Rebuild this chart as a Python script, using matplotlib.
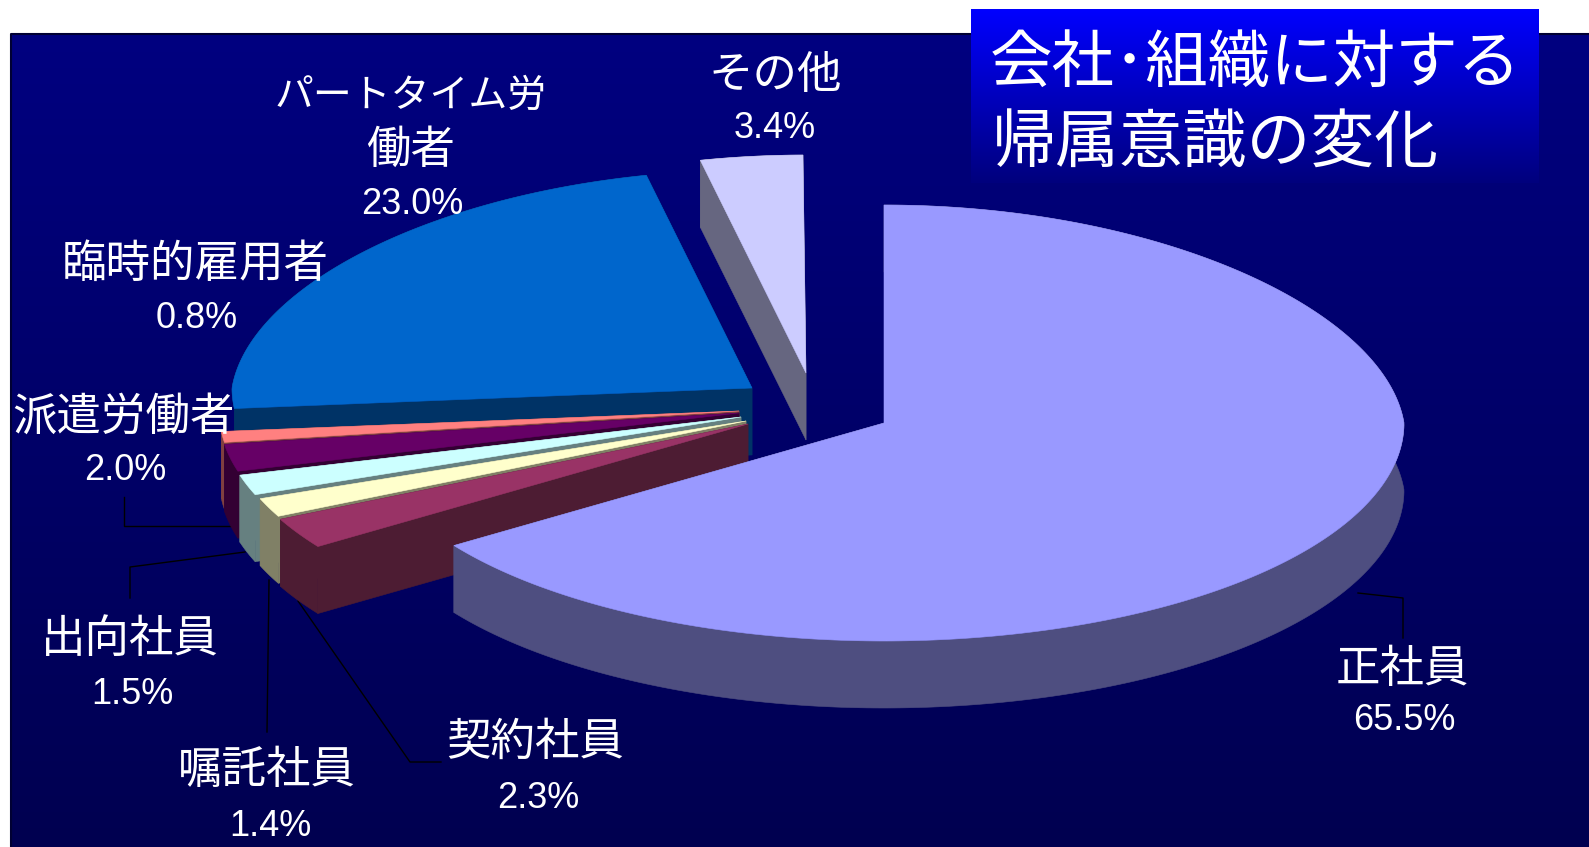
# coding=utf-8
import numpy as np
import matplotlib
matplotlib.use("Agg")
import matplotlib.pyplot as plt
from matplotlib.patches import Polygon

plt.rcParams['font.family'] = ['Liberation Sans', 'Noto Sans CJK JP', 'DejaVu Sans']

# 雇用形態ごとの割合 (%)  12時の位置から時計回り
labels = ["正社員", "契約社員", "嘱託社員", "出向社員", "派遣労働者",
          "臨時的雇用者", "パートタイム労\n働者", "その他"]
shares = [65.5, 2.3, 1.4, 1.5, 2.0, 0.8, 23.0, 3.4]
top_colors = ["#9999FF", "#993366", "#FFFFCC", "#CCFFFF", "#660066",
              "#FF8080", "#0066CC", "#CCCCFF"]
wall_colors = ["#4E4E80", "#4D1C33", "#808066", "#668080", "#330033",
               "#804040", "#003366", "#666680"]
title_lines = ["会社･組織に対する", "帰属意識の変化"]

W, H = 1589, 847

# 扇形ごとの切り出し後の中心
apex_x = [884, 748, 746, 741, 739, 739, 752, 806]
apex_y = [423, 424, 421, 417, 413, 411, 388, 373]
RX, RY, DEPTH = 520, 218, 67

# ラベル位置 (名前の中心, 値の中心)
name_pos = [(1402, 670), (535, 743), (267, 771), (130, 640), (124, 418),
            (195, 265), (411, 97), (775, 76)]
value_pos = [(1404, 720), (538, 798), (270, 826), (132, 694), (125, 471),
             (197, 318), (412, 204), (775, 129)]
LINE_STEP = 54

# 引き出し線
leaders = [
    [(1358, 593), (1403, 598), (1403, 638)],
    [(298, 601), (410, 762), (441, 762)],
    [(269, 580), (267, 732)],
    [(245, 552), (130, 567), (130, 598)],
    [(232, 526), (124, 526), (124, 497)],
]


def ring_points(cx, cy, theta):
    # 奥側ほど少し幅が狭くなる楕円
    shrink = 1 - 0.07 * np.clip(np.sin(theta), 0, None)
    return np.column_stack([cx + RX * shrink * np.cos(theta), cy - RY * np.sin(theta)])


def draw_slice(ax, cx, cy, start, end, top, wall, z):
    theta = np.linspace(start, end, max(int(abs(end - start) * 80), 4))
    arc = ring_points(cx, cy, theta)
    apex = np.array([[cx, cy]])
    down = np.array([0, DEPTH])

    for seg in (np.vstack([apex, arc[:1]]), np.vstack([apex, arc[-1:]]), arc):
        wall_poly = np.vstack([seg, (seg + down)[::-1]])
        ax.add_patch(Polygon(wall_poly, closed=True, fc=wall, ec=wall, lw=0.4, zorder=z))
    ax.add_patch(Polygon(np.vstack([apex, arc]), closed=True, fc=top, ec=top, lw=0.4, zorder=z + 0.5))


fig = plt.figure(figsize=(W / 100, H / 100), dpi=100, facecolor="white")
ax = fig.add_axes([0, 0, 1, 1])
ax.axis("off")

# 背景のグラデーション
bg = np.linspace(0, 1, 256).reshape(-1, 1)
bg_rgb = np.zeros((256, 1, 3))
bg_rgb[:, :, 2] = (128 - 48 * bg) / 255
ax.imshow(bg_rgb, extent=(11, W, H, 33), aspect="auto", zorder=0)
ax.plot([11, 11, W], [H, 34, 34], color="#000033", lw=1.5, zorder=0.5)

# タイトルの箱
box_rgb = np.zeros((256, 1, 3))
box_rgb[:, :, 2] = (255 - 130 * bg) / 255
ax.imshow(box_rgb, extent=(971, 1539, 183, 9), aspect="auto", zorder=1)

# 扇形の角度
edges = np.cumsum([0] + shares) / 100 * 2 * np.pi
starts = np.pi / 2 - edges[:-1]
ends = np.pi / 2 - edges[1:]

# 奥から手前の順に描く
order = [7, 6, 5, 4, 3, 2, 1, 0]
for z, i in enumerate(order):
    draw_slice(ax, apex_x[i], apex_y[i], starts[i], ends[i],
               top_colors[i], wall_colors[i], 3 + z)

for pts in leaders:
    xs, ys = zip(*pts)
    ax.plot(xs, ys, color="black", lw=1, zorder=2)

for i, name in enumerate(labels):
    for k, line in enumerate(name.split("\n")):
        # 長い行はカナが多いので少し小さく
        size = 28 if len(line) > 6 else 32
        ax.text(name_pos[i][0], name_pos[i][1] + k * LINE_STEP, line, color="white",
                fontsize=size, ha="center", va="center", zorder=20)
    ax.text(value_pos[i][0], value_pos[i][1], "%.1f%%" % shares[i], color="white",
            fontsize=26, ha="center", va="center", zorder=20)

ax.text(990, 65, title_lines[0], color="white", fontsize=45, ha="left", va="center", zorder=20)
ax.text(992, 146, title_lines[1], color="white", fontsize=46, ha="left", va="center", zorder=20)

ax.set_xlim(0, W)
ax.set_ylim(H, 0)

fig.savefig("out.png", dpi=100)
